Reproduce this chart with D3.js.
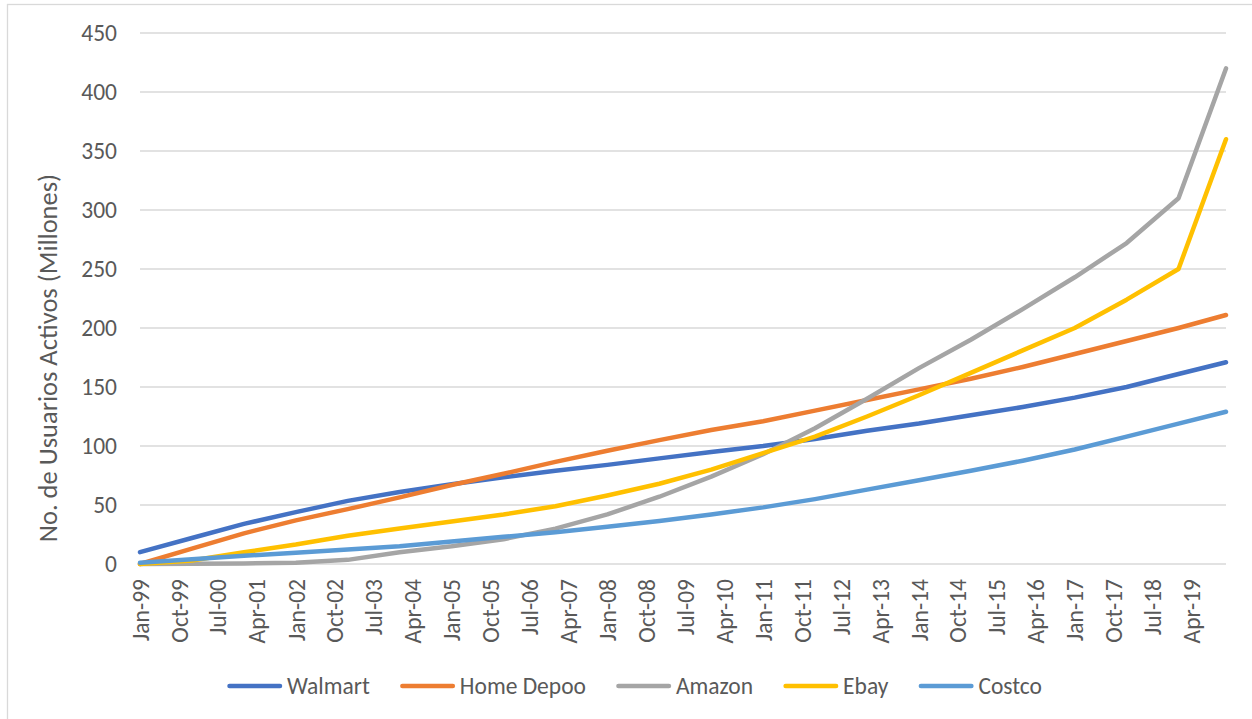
<!DOCTYPE html>
<html>
<head>
<meta charset="utf-8">
<script src="https://cdn.jsdelivr.net/npm/d3@7"></script>
<style>
  html, body { margin: 0; padding: 0; background: #fff; }
  svg { display: block; font-family: Carlito, Calibri, Lato, sans-serif; }
</style>
</head>
<body>
<svg id="chart" width="1252" height="719"></svg>
<script>
// ---- data ----
const dateLabels = ["Jan-99","Jan-00","Jan-01","Jan-02","Jan-03","Jan-04","Jan-05","Jan-06","Jan-07","Jan-08","Jan-09","Jan-10","Jan-11","Jan-12","Jan-13","Jan-14","Jan-15","Jan-16","Jan-17","Jan-18","Jan-19","Dec-19"];
const walmart   = [10, 22, 34, 44, 53.5, 61, 67.5, 73.5, 79, 84, 89.5, 95, 100, 106, 113, 119, 126, 133, 141, 150, 161, 171];
const homeDepoo = [0, 13, 26, 37, 46.5, 56.5, 67, 76.5, 86.5, 96, 105, 113.5, 121, 130, 139, 148, 157, 167, 178, 189, 200, 211];
const amazon    = [0, 0.3, 0.5, 1, 3.5, 10, 15, 21, 30, 42, 57, 74, 93, 115, 140, 166, 190, 216, 243, 272, 310, 420];
const ebay      = [0, 3, 10, 16.5, 24, 30, 36, 42, 49, 58, 68, 80, 94, 108, 125, 143, 162, 181, 200, 224, 250, 360];
const costco    = [1, 4, 7, 9.5, 12.3, 15, 19, 23, 27, 31.5, 36.5, 42, 48, 55, 63, 71, 79, 87.5, 97, 108, 119, 129];
const seriesNames = ["Walmart", "Home Depoo", "Amazon", "Ebay", "Costco"];
const seriesColors = ["#4472C4", "#ED7D31", "#A5A5A5", "#FFC000", "#5B9BD5"];
const xTickLabels = ["Jan-99","Oct-99","Jul-00","Apr-01","Jan-02","Oct-02","Jul-03","Apr-04","Jan-05","Oct-05","Jul-06","Apr-07","Jan-08","Oct-08","Jul-09","Apr-10","Jan-11","Oct-11","Jul-12","Apr-13","Jan-14","Oct-14","Jul-15","Apr-16","Jan-17","Oct-17","Jul-18","Apr-19"];
const yTicks = [0, 50, 100, 150, 200, 250, 300, 350, 400, 450];
const yTitle = "No. de Usuarios Activos (Millones)";

// ---- build ----
const parse = d3.timeParse("%b-%y");
const dates = dateLabels.map(parse);
const seriesValues = [walmart, homeDepoo, amazon, ebay, costco];
const series = seriesNames.map((name, i) => ({
  name, color: seriesColors[i],
  values: dates.map((d, j) => ({ date: d, value: seriesValues[i][j] }))
}));

const svg = d3.select("#chart");
const plotL = 140, plotR = 1226, plotT = 33, plotB = 564;
const font = "Carlito, Calibri, Lato, sans-serif";
const textColor = "#595959";

// outer frame
svg.append("rect").attr("x", 7.5).attr("y", 4.5).attr("width", 1300).attr("height", 800)
  .attr("fill", "#fff").attr("stroke", "#d9d9d9").attr("stroke-width", 1.3);

const x = d3.scaleTime().domain([dates[0], dates[dates.length - 1]]).range([plotL, plotR]);
const y = d3.scaleLinear().domain([0, 450]).range([plotB, plotT]);

// gridlines
svg.append("g").selectAll("line").data(yTicks).join("line")
  .attr("x1", plotL).attr("x2", plotR)
  .attr("y1", d => y(d)).attr("y2", d => y(d))
  .attr("stroke", "#d9d9d9").attr("stroke-width", 1.3);

// y axis
const yAxis = svg.append("g").attr("transform", `translate(${plotL},0)`)
  .call(d3.axisLeft(y).tickValues(yTicks).tickSize(0).tickPadding(23));
yAxis.select(".domain").remove();
yAxis.selectAll("text").attr("fill", textColor).style("font-size", "23.5px")
  .style("font-family", font);

// x axis
const xAxis = svg.append("g").attr("transform", `translate(0,${plotB})`)
  .call(d3.axisBottom(x).tickValues(xTickLabels.map(parse)).tickFormat(d3.timeFormat("%b-%y")).tickSize(0));
xAxis.select(".domain").remove();
xAxis.selectAll("text")
  .attr("fill", textColor).style("font-size", "23.5px")
  .style("font-family", font)
  .attr("text-anchor", "end")
  .attr("transform", "rotate(-90)")
  .attr("x", -15).attr("y", 0).attr("dy", "0.35em");

// y title
svg.append("text")
  .attr("transform", `translate(57,358) rotate(-90)`)
  .attr("text-anchor", "middle")
  .attr("fill", textColor).style("font-size", "26.5px").style("font-family", font)
  .text(yTitle);

// lines
const line = d3.line().x(d => x(d.date)).y(d => y(d.value));
svg.append("g").selectAll("path").data(series).join("path")
  .attr("d", d => line(d.values))
  .attr("fill", "none").attr("stroke", d => d.color)
  .attr("stroke-width", 4.5).attr("stroke-linecap", "round").attr("stroke-linejoin", "round");

// legend: laid out left to right, each item = line + label, fixed gap between items
const legendY = 686;
let cursor = 227;
series.forEach(s => {
  const g = svg.append("g").attr("transform", `translate(${cursor},${legendY})`);
  g.append("line").attr("x1", 2.5).attr("x2", 53).attr("y1", 0).attr("y2", 0)
    .attr("stroke", s.color).attr("stroke-width", 4.5).attr("stroke-linecap", "round");
  const t = g.append("text").attr("x", 60).attr("y", 0).attr("dy", "0.35em")
    .attr("fill", textColor).style("font-size", "23.5px").style("font-family", font).text(s.name);
  cursor += 60 + t.node().getComputedTextLength() + 30;
});
</script>
</body>
</html>
